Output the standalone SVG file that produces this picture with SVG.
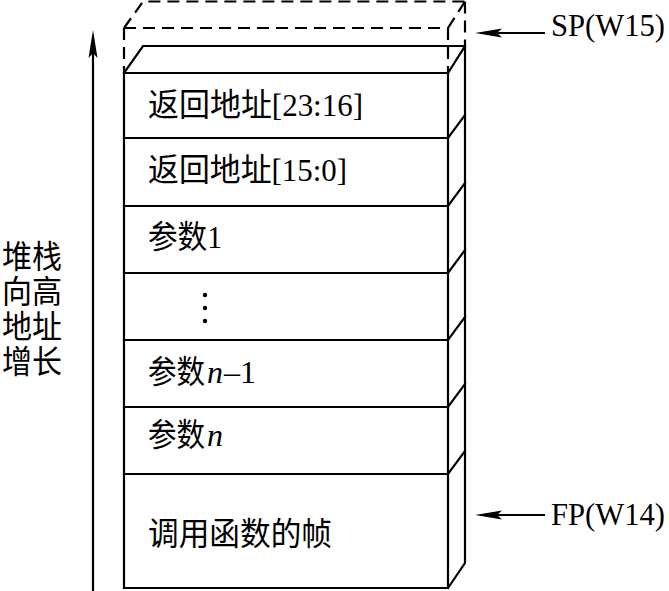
<svg xmlns="http://www.w3.org/2000/svg" width="669" height="591" viewBox="0 0 669 591">
<style>
.ln{stroke:#000;stroke-width:2.2;fill:none;stroke-linecap:square}
.ds{stroke:#000;stroke-width:2.2;fill:none;stroke-dasharray:12 7}
.t{font-family:"Liberation Serif","Noto Sans CJK SC",serif;font-size:32px;fill:#000}
.i{font-style:italic}
</style>
<rect width="669" height="591" fill="#fff"/>
<g id="empty-slot">
<path class="ds" d="M124,28 H448 M124,28 L143,1.5 H465 M448,28 L465,1.5 M124,28 V73 M448,28 V73 M465,1.5 V46"/>
</g>
<g id="stack-frame">
<path class="ln" d="M124,73 H448 V588 H124 Z M124,73 L143,46 H465 V563 L448,588 M448,73 L465,46"/>
</g>
<g id="row-ret-hi">
<text class="t" x="148" y="116" textLength="215" lengthAdjust="spacingAndGlyphs">返回地址[23:16]</text>
</g>
<g id="row-ret-lo">
<path class="ln" d="M124,138 H448 L465,115"/>
<text class="t" x="148" y="181" textLength="199" lengthAdjust="spacingAndGlyphs">返回地址[15:0]</text>
</g>
<g id="row-arg1">
<path class="ln" d="M124,206 H448 L465,183"/>
<text class="t" x="148" y="248" textLength="74" lengthAdjust="spacingAndGlyphs">参数1</text>
</g>
<g id="row-dots">
<path class="ln" d="M124,273 H448 L465,250"/>
<circle cx="205" cy="295" r="2.2"/>
<circle cx="205" cy="308" r="2.2"/>
<circle cx="205" cy="321" r="2.2"/>
</g>
<g id="row-argn1">
<path class="ln" d="M124,340 H448 L465,317"/>
<text class="t" transform="translate(148,383) scale(0.89,1)">参数</text>
<text class="t i" x="207" y="383">n</text>
<text class="t" x="224" y="383">–1</text>
</g>
<g id="row-argn">
<path class="ln" d="M124,407 H448 L465,384"/>
<text class="t" transform="translate(148,446) scale(0.89,1)">参数</text>
<text class="t i" x="207" y="446">n</text>
</g>
<g id="row-caller">
<path class="ln" d="M124,474 H448 L465,451"/>
<text class="t" x="148" y="545" textLength="184" lengthAdjust="spacingAndGlyphs">调用函数的帧</text>
</g>
<g id="label-growth">
<text class="t" x="2" y="268" textLength="60" lengthAdjust="spacingAndGlyphs">堆栈</text>
<text class="t" x="2" y="303" textLength="60" lengthAdjust="spacingAndGlyphs">向高</text>
<text class="t" x="2" y="338" textLength="60" lengthAdjust="spacingAndGlyphs">地址</text>
<text class="t" x="2" y="373" textLength="60" lengthAdjust="spacingAndGlyphs">增长</text>
</g>
<g id="label-sp">
<text class="t" x="551" y="36" textLength="114" lengthAdjust="spacingAndGlyphs">SP(W15)</text>
</g>
<g id="label-fp">
<text class="t" x="551" y="525" textLength="114" lengthAdjust="spacingAndGlyphs">FP(W14)</text>
</g>
<g id="connectors">
<path class="ln" d="M93,50 V591" style="stroke-linecap:butt"/>
<polygon points="93,30 88.5,58 93,53 97.5,58"/>
<path class="ln" d="M495,33 H545" style="stroke-linecap:butt"/>
<polygon points="475,33 502,28.5 497,33 502,37.5"/>
<path class="ln" d="M495,515 H545" style="stroke-linecap:butt"/>
<polygon points="475,515 502,510.5 497,515 502,519.5"/>
</g>
</svg>
